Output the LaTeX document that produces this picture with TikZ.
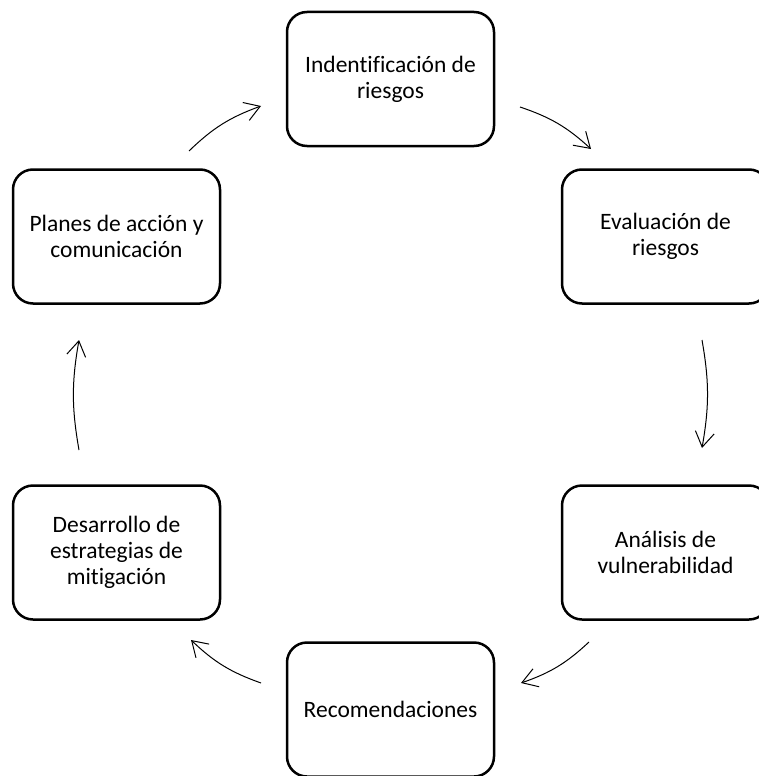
\documentclass[tikz,border=0pt]{standalone}
\usepackage{fontspec}
\setmainfont{Carlito}[Ligatures=CommonOff]
\usetikzlibrary{positioning, arrows.meta}

\tikzset{
  etapa/.style={draw, line width=2.5pt, rounded corners=20pt, outer sep=0pt,
    minimum width=207pt, minimum height=134pt, align=center,
    font=\fontsize{23.5}{26}\selectfont},
  flujo/.style={line width=1pt, -{Straight Barb[length=15pt,width=19pt,line width=1pt]}}
}

\begin{document}
\begin{tikzpicture}[x=1pt, y=-1pt]
  \useasboundingbox (0,0) rectangle (758,776);

  \node[etapa] (ident) at (390.5,79) {Indentificación de\\riesgos};
  \node[etapa] (planes) at (116.5,236.5) {Planes de acción y\\comunicación};
  \node[etapa, right=342pt of planes] (eval) {Evaluación de\\riesgos};
  \node[etapa, below=182pt of eval] (analisis) {Análisis de\\vulnerabilidad};
  \node[etapa, below=182pt of planes] (desarrollo) {Desarrollo de\\estrategias de\\mitigación};
  \node[etapa] (recom) at (390.5,709.5) {Recomendaciones};

  % extremos de las flechas
  \coordinate (p1) at (189,151);
  \coordinate (i1) at (261,106);
  \coordinate (i2) at (520,107);
  \coordinate (e1) at (591,149);
  \coordinate (e2) at (702,340);
  \coordinate (a1) at (702,448);
  \coordinate (a2) at (589,642);
  \coordinate (r1) at (521,683);
  \coordinate (r2) at (261,683);
  \coordinate (d1) at (191,640);
  \coordinate (d2) at (79,450);
  \coordinate (p2) at (79,340);

  \draw[flujo] (p1) to[bend left=12] (i1);
  \draw[flujo] (i2) to[bend left=12] (e1);
  \draw[flujo] (e2) to[bend left=10] (a1);
  \draw[flujo] (a2) to[bend left=12] (r1);
  \draw[flujo] (r2) to[bend left=12] (d1);
  \draw[flujo] (d2) to[bend left=10] (p2);
\end{tikzpicture}
\end{document}
